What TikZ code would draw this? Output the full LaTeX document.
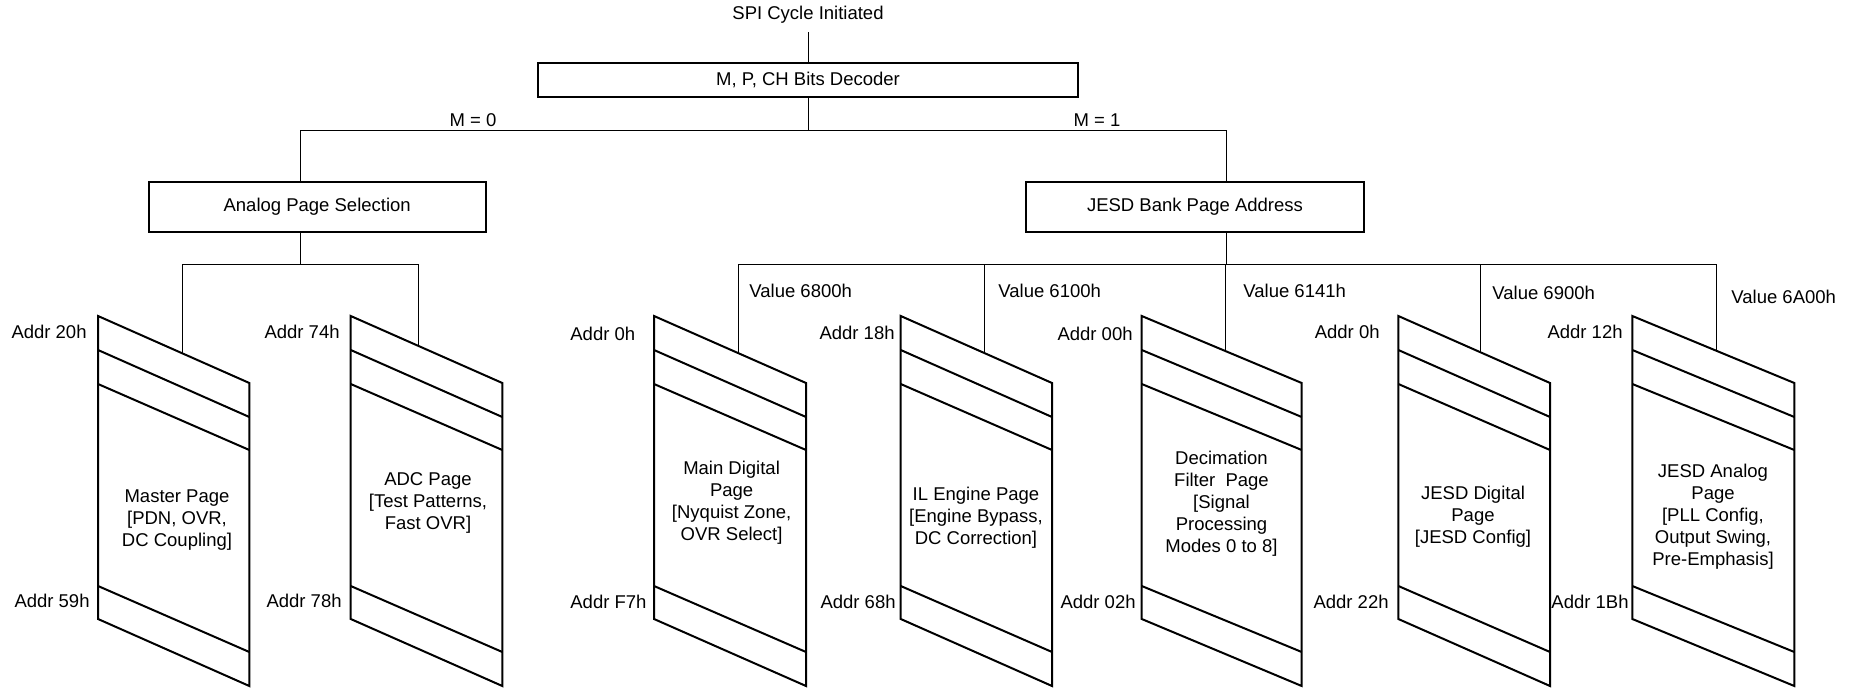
\documentclass[tikz,border=0pt]{standalone}
\usepackage{fontspec}
\setmainfont{Liberation Sans}
\usetikzlibrary{calc}
\newcommand{\regpage}[3]{%
  \coordinate (#1-tl) at (#2,316);
  \coordinate (#1-tr) at (#3,383);
  \draw[pageline] (#2,316) -- (#3,383) -- (#3,686) -- (#2,619) -- cycle;
  \draw[pageline] (#2,350) -- (#3,417);
  \draw[pageline] (#2,384) -- (#3,450);
  \draw[pageline] (#2,586) -- (#3,652);
}
\begin{document}
\begin{tikzpicture}[x=0.5pt,y=-0.5pt,
  txt/.style={inner sep=0pt, font=\fontsize{9.25}{11}\selectfont},
  ptxt/.style={txt, align=center},
  box/.style={draw, line width=0.9pt, inner sep=0pt, font=\fontsize{9.25}{11}\selectfont},
  conn/.style={line width=0.5pt},
  pageline/.style={line width=1pt, line join=miter}]
\useasboundingbox (0,0) rectangle (1860,688);

% top
\node[txt, inner ysep=4pt] (spi) at (808,15) {SPI Cycle Initiated};
\node[box, minimum width=270pt, minimum height=17pt] (dec) at (808,80) {M, P, CH Bits Decoder};
\node[box, minimum width=168.6pt, minimum height=25pt] (analog) at (317.2,207) {Analog Page Selection};
\node[box, minimum width=169pt, minimum height=25pt] (jesd) at (1195,207) {JESD Bank Page Address};

\coordinate (busM) at (808,131);
\coordinate (busL) at (300,131);
\coordinate (busR) at (1226,131);
\coordinate (aB) at (300,265);
\coordinate (jB) at (1226,265);

\draw[conn] (spi.south) -- (dec.north);
\draw[conn] (dec.south) -- (busM);
\draw[conn] (busL |- analog.north) -- (busL) -- (busR) -- (busR |- jesd.north);
\node[txt] (m0) at (473,120) {M = 0};
\node[txt] (m1) at (1097,120) {M = 1};

% pages
\regpage{p1}{98}{249.3}
\regpage{p2}{350.7}{502.3}
\regpage{p3}{654}{806}
\regpage{p4}{900.7}{1052}
\regpage{p5}{1141.7}{1301.7}
\regpage{p6}{1398.3}{1550}
\regpage{p7}{1632.3}{1794.3}

\coordinate (p1c) at (182.3,353.3);
\coordinate (p2c) at (418.3,345.9);
\coordinate (p3c) at (738.3,353.2);
\coordinate (p4c) at (984.3,353);
\coordinate (p5c) at (1225.7,351.2);
\coordinate (p6c) at (1480.7,352.4);
\coordinate (p7c) at (1716,350.6);

% analog tree
\draw[conn] (busL |- analog.south) -- (aB);
\draw[conn] (p1c) -- (p1c |- aB) -- (p2c |- aB) -- (p2c);

% jesd tree
\draw[conn] (busR |- jesd.south) -- (jB);
\draw[conn] (p3c) -- (p3c |- jB) -- (p7c |- jB) -- (p7c);
\draw[conn] (p4c) -- (p4c |- jB);
\draw[conn] (p5c) -- (p5c |- jB);
\draw[conn] (p6c) -- (p6c |- jB);

% value labels
\node[txt, anchor=west] (v3) at (749,291) {Value 6800h};
\node[txt, anchor=west] (v4) at (998,291) {Value 6100h};
\node[txt, anchor=west] (v5) at (1243,291) {Value 6141h};
\node[txt, anchor=west] (v6) at (1492,293) {Value 6900h};
\node[txt, anchor=west] (v7) at (1731,297) {Value 6A00h};

% address labels
\node[txt, anchor=east] (a1t) at (87,332) {Addr 20h};
\node[txt, anchor=east] (a1b) at (90,601) {Addr 59h};
\node[txt, anchor=east] (a2t) at (340,332) {Addr 74h};
\node[txt, anchor=east] (a2b) at (342,601) {Addr 78h};
\node[txt, anchor=west] (a3t) at (570,334) {Addr 0h};
\node[txt, anchor=west] (a3b) at (570,602) {Addr F7h};
\node[txt, anchor=east] (a4t) at (895,333) {Addr 18h};
\node[txt, anchor=east] (a4b) at (896,602) {Addr 68h};
\node[txt, anchor=east] (a5t) at (1133,334) {Addr 00h};
\node[txt, anchor=east] (a5b) at (1136,602) {Addr 02h};
\node[txt, anchor=east] (a6t) at (1380,332) {Addr 0h};
\node[txt, anchor=east] (a6b) at (1389,602) {Addr 22h};
\node[txt, anchor=east] (a7t) at (1623,332) {Addr 12h};
\node[txt, anchor=east] (a7b) at (1629,602) {Addr 1Bh};

% page texts
\node[ptxt] (t1) at (177,520) {Master Page\\{[}PDN, OVR,\\DC Coupling]};
\node[ptxt] (t2) at (428,503) {ADC Page\\{[}Test Patterns,\\Fast OVR]};
\node[ptxt] (t3) at (731.6,503) {Main Digital\\Page\\{[}Nyquist Zone,\\OVR Select]};
\node[ptxt] (t4) at (976,517.7) {IL Engine Page\\{[}Engine Bypass,\\DC Correction]};
\node[ptxt] (t5) at (1221.5,503.3) {Decimation\\Filter\ \ Page\\{[}Signal\\Processing\\Modes 0 to 8]};
\node[ptxt] (t6) at (1473,517) {JESD Digital\\Page\\{[}JESD Config]};
\node[ptxt] (t7) at (1713,516.7) {JESD Analog\\Page\\{[}PLL Config,\\Output Swing,\\Pre-Emphasis]};
\end{tikzpicture}
\end{document}
